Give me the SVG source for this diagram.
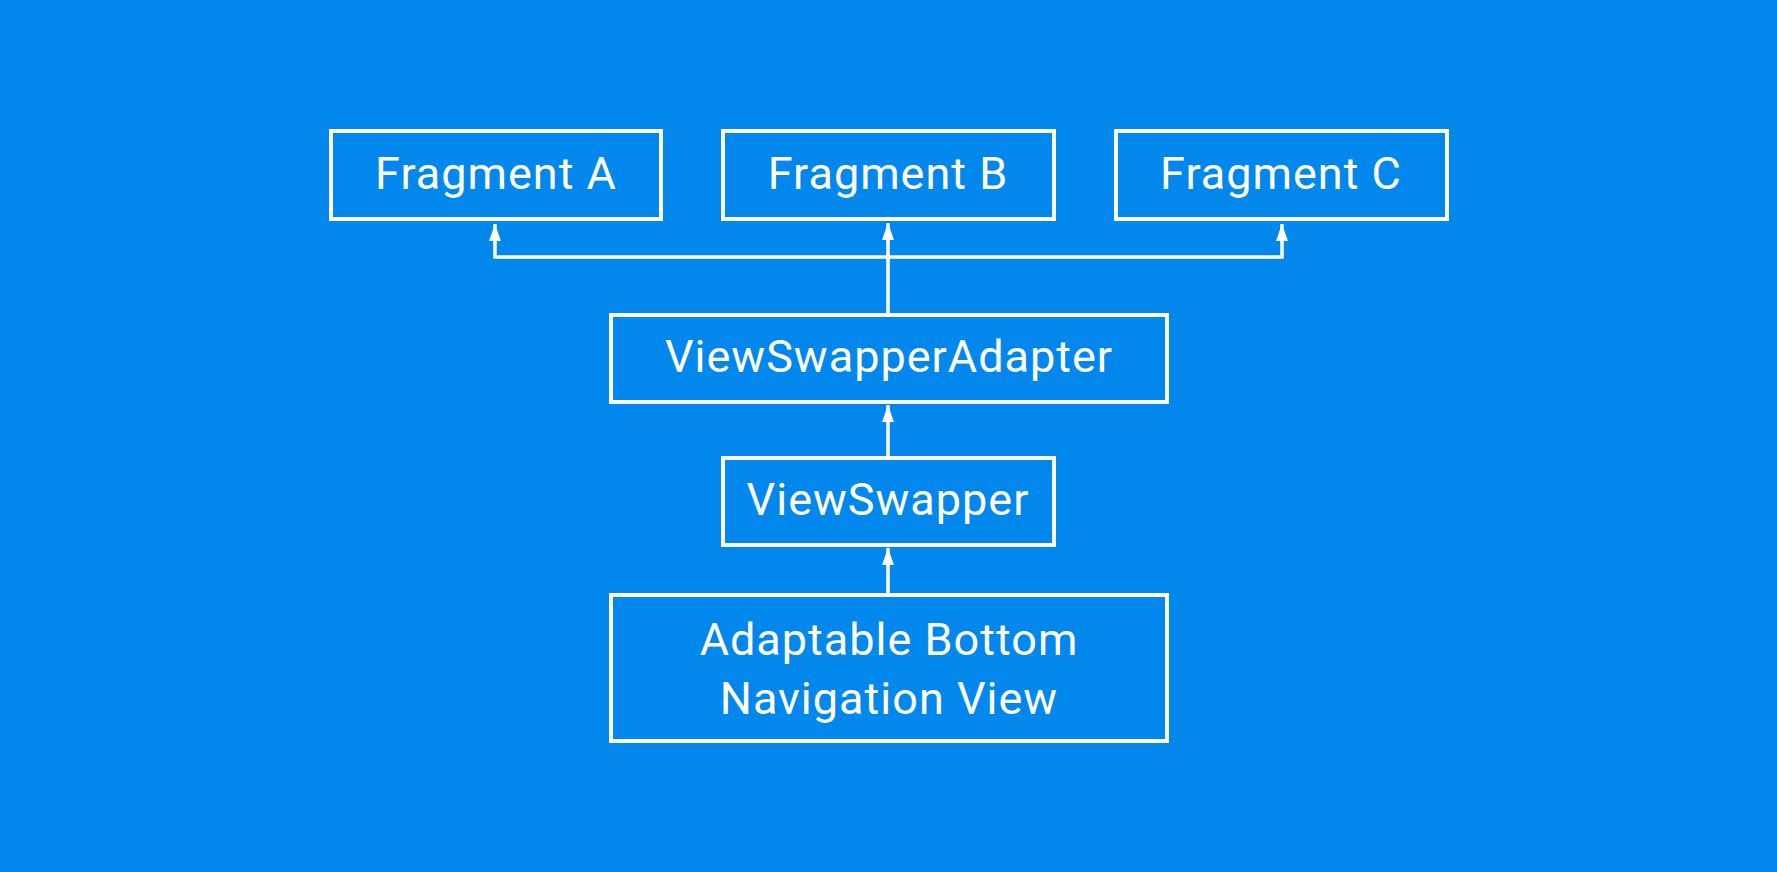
<svg xmlns="http://www.w3.org/2000/svg" width="1777" height="872" viewBox="0 0 1777 872">
<style>
.box{fill:none;stroke:#ffffff;stroke-width:4}
.lbl{font-family:Roboto,"Liberation Sans",sans-serif;font-size:45px;fill:#ffffff;text-anchor:middle;letter-spacing:1px}
.conn{fill:none;stroke:#ffffff;stroke-width:3.5}
</style>
<defs>
<marker id="arr" markerUnits="userSpaceOnUse" markerWidth="17" markerHeight="12" refX="17" refY="6" orient="auto-start-reverse" viewBox="0 0 17 12">
<path d="M0,0 L17,6 L0,12 Z" fill="#ffffff"/>
</marker>
</defs>
<rect width="1777" height="872" fill="#0288EC"/>
<g id="connectors">
<polyline class="conn" points="495,224 495,257 1282,257 1282,224" marker-start="url(#arr)" marker-end="url(#arr)"/>
<line class="conn" x1="888" y1="314" x2="888" y2="223" marker-end="url(#arr)"/>
<line class="conn" x1="888" y1="457" x2="888" y2="405" marker-end="url(#arr)"/>
<line class="conn" x1="888" y1="594" x2="888" y2="548" marker-end="url(#arr)"/>
</g>
<g id="fragmentA">
<rect class="box" x="331" y="131" width="330" height="88"/>
<text class="lbl" x="496" y="189">Fragment A</text>
</g>
<g id="fragmentB">
<rect class="box" x="723" y="131" width="331" height="88"/>
<text class="lbl" x="888" y="189">Fragment B</text>
</g>
<g id="fragmentC">
<rect class="box" x="1116" y="131" width="331" height="88"/>
<text class="lbl" x="1281" y="189">Fragment C</text>
</g>
<g id="viewSwapperAdapter">
<rect class="box" x="611" y="315" width="556" height="87"/>
<text class="lbl" x="889" y="372">ViewSwapperAdapter</text>
</g>
<g id="viewSwapper">
<rect class="box" x="723" y="458" width="331" height="87"/>
<text class="lbl" x="888" y="515">ViewSwapper</text>
</g>
<g id="adaptableBottomNavigationView">
<rect class="box" x="611" y="595" width="556" height="146"/>
<text class="lbl" x="889" y="655">Adaptable Bottom</text>
<text class="lbl" x="889" y="714">Navigation View</text>
</g>
</svg>
